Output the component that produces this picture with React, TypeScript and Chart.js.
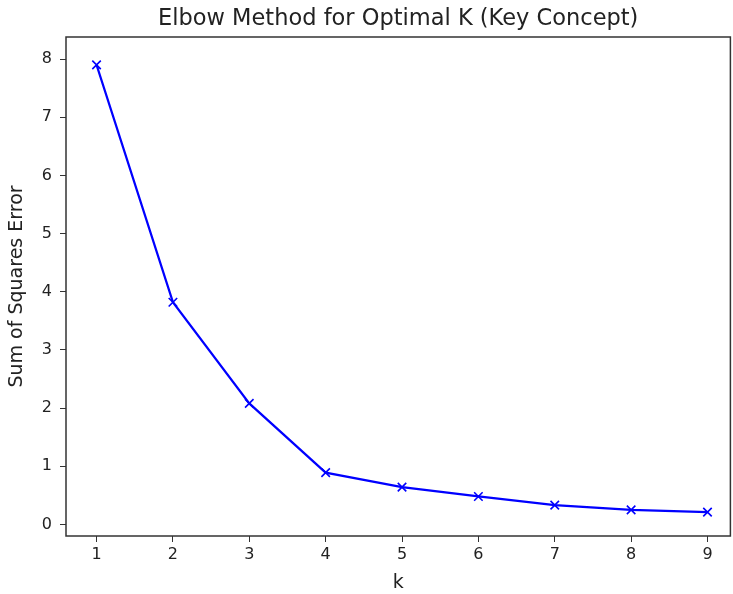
import React, { useEffect, useRef } from "react";
import { Chart, registerables } from "chart.js";

Chart.register(...registerables);

const kValues = [1, 2, 3, 4, 5, 6, 7, 8, 9];
const sseValues = [7.9, 3.82, 2.08, 0.89, 0.64, 0.48, 0.33, 0.25, 0.21];
const xTicks = [1, 2, 3, 4, 5, 6, 7, 8, 9];
const yTicks = [0, 1, 2, 3, 4, 5, 6, 7, 8];
const titleText = "Elbow Method for Optimal K (Key Concept)";
const xLabel = "k";
const yLabel = "Sum of Squares Error";

const FONT = "'DejaVu Sans', sans-serif";

const framePlugin = {
  id: "frame",
  afterDraw(chart: any) {
    const { ctx, chartArea } = chart;
    ctx.save();
    ctx.strokeStyle = "#333";
    ctx.lineWidth = 1.5;
    ctx.strokeRect(chartArea.left, chartArea.top, chartArea.right - chartArea.left, chartArea.bottom - chartArea.top);
    ctx.fillStyle = "#222";
    ctx.font = `22.5px ${FONT}`;
    ctx.textAlign = "center";
    ctx.textBaseline = "middle";
    ctx.fillText(titleText, (chartArea.left + chartArea.right) / 2, 19);
    ctx.restore();
  },
};

export default function App() {
  const ref = useRef<HTMLCanvasElement>(null);
  useEffect(() => {
    if (!ref.current) return;
    const chart = new Chart(ref.current, {
      type: "line",
      data: {
        datasets: [
          {
            data: kValues.map((k, i) => ({ x: k, y: sseValues[i] })),
            borderColor: "#0000ff",
            backgroundColor: "#0000ff",
            borderWidth: 2.2,
            pointStyle: "crossRot",
            pointRadius: 6,
            pointBorderWidth: 1.6,
            pointBorderColor: "#0000ff",
            tension: 0,
          },
        ],
      },
      options: {
        animation: false,
        responsive: false,
        maintainAspectRatio: false,
        layout: { padding: { top: 37, right: 0, left: 0, bottom: 0 } },
        plugins: { legend: { display: false }, tooltip: { enabled: false }, title: { display: false } },
        scales: {
          x: {
            type: "linear",
            min: 0.6,
            max: 9.3,
            afterBuildTicks: (s: any) => {
              s.ticks = xTicks.map((v) => ({ value: v }));
            },
            afterFit: (s: any) => {
              s.height = 58;
            },
            grid: { display: true, drawOnChartArea: false, drawTicks: true, tickLength: 6, color: "#333" },
            border: { display: false },
            ticks: { color: "#222", font: { family: FONT, size: 16 }, padding: 3, maxRotation: 0 },
            title: { display: true, text: xLabel, color: "#222", font: { family: FONT, size: 19 }, padding: { top: 0, bottom: 0 } },
          },
          y: {
            type: "linear",
            min: -0.2,
            max: 8.38,
            afterBuildTicks: (s: any) => {
              s.ticks = yTicks.map((v) => ({ value: v }));
            },
            afterFit: (s: any) => {
              s.width = 66;
            },
            grid: { display: true, drawOnChartArea: false, drawTicks: true, tickLength: 6, color: "#333" },
            border: { display: false },
            ticks: { color: "#222", font: { family: FONT, size: 16 }, padding: 8 },
            title: { display: true, text: yLabel, color: "#222", font: { family: FONT, size: 19 }, padding: { top: 6, bottom: 0 } },
          },
        },
      },
      plugins: [framePlugin],
    } as any);
    return () => chart.destroy();
  }, []);
  return (
    <div style={{ position: "fixed", left: 0, top: 0, width: 733, height: 594, background: "#fff", overflow: "hidden" }}>
      <canvas ref={ref} width={738} height={594} style={{ width: 738, height: 594, display: "block" }} />
    </div>
  );
}
